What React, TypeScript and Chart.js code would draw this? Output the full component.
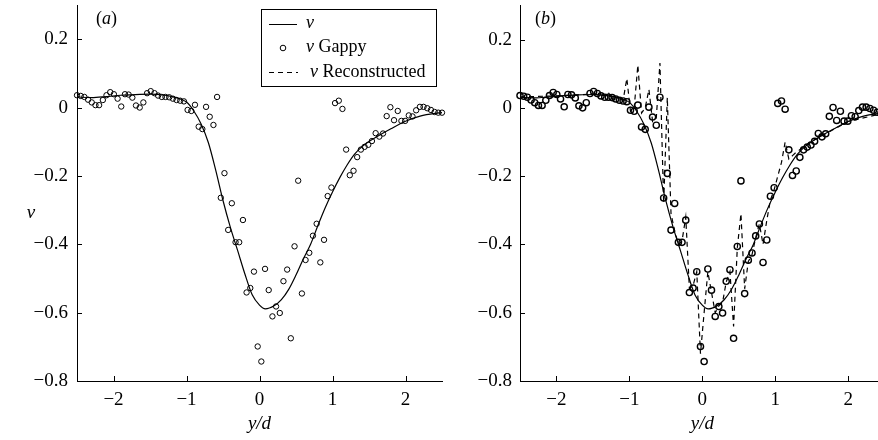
import React, { useEffect, useRef } from 'react';
import { Chart, registerables } from 'chart.js';
Chart.register(...registerables);

// ---- data ----
const xTicks = [-2, -1, 0, 1, 2];
const yTicks = [-0.8, -0.6, -0.4, -0.2, 0, 0.2];

// exact solution v
const vX = [-2.5, -2.3, -2.1, -1.9, -1.7, -1.5, -1.3, -1.2, -1.1, -1.0, -0.9, -0.8, -0.7, -0.6, -0.5, -0.4, -0.3, -0.2, -0.1, 0, 0.08, 0.2, 0.3, 0.4, 0.5, 0.6, 0.7, 0.8, 0.9, 1.0, 1.1, 1.2, 1.3, 1.4, 1.5, 1.6, 1.8, 2.0, 2.2, 2.4, 2.5];
const vV = [0.031, 0.029, 0.032, 0.036, 0.038, 0.039, 0.036, 0.032, 0.026, 0.016, -0.01, -0.048, -0.103, -0.183, -0.272, -0.35, -0.418, -0.487, -0.548, -0.578, -0.589, -0.58, -0.562, -0.532, -0.49, -0.443, -0.4, -0.345, -0.293, -0.247, -0.205, -0.168, -0.137, -0.115, -0.099, -0.086, -0.062, -0.04, -0.025, -0.017, -0.015];

// gappy samples
const gX = [-2.5, -2.449, -2.399, -2.348, -2.298, -2.247, -2.197, -2.146, -2.096, -2.045, -1.995, -1.944, -1.894, -1.843, -1.793, -1.742, -1.692, -1.641, -1.591, -1.54, -1.49, -1.439, -1.389, -1.338, -1.288, -1.237, -1.187, -1.136, -1.086, -1.035, -0.985, -0.934, -0.884, -0.833, -0.783, -0.732, -0.682, -0.631, -0.581, -0.53, -0.48, -0.429, -0.379, -0.328, -0.278, -0.227, -0.177, -0.126, -0.076, -0.025, 0.025, 0.076, 0.126, 0.177, 0.227, 0.278, 0.328, 0.379, 0.429, 0.48, 0.53, 0.581, 0.631, 0.682, 0.732, 0.783, 0.833, 0.884, 0.934, 0.985, 1.035, 1.086, 1.136, 1.187, 1.237, 1.288, 1.338, 1.389, 1.439, 1.49, 1.54, 1.591, 1.641, 1.692, 1.742, 1.793, 1.843, 1.894, 1.944, 1.995, 2.045, 2.096, 2.146, 2.197, 2.247, 2.298, 2.348, 2.399, 2.449, 2.5];
const gV = [0.036, 0.034, 0.031, 0.023, 0.015, 0.007, 0.007, 0.022, 0.036, 0.045, 0.039, 0.026, 0.003, 0.039, 0.038, 0.029, 0.006, 0.0, 0.015, 0.042, 0.048, 0.042, 0.035, 0.031, 0.031, 0.03, 0.026, 0.022, 0.02, 0.018, -0.007, -0.01, 0.008, -0.056, -0.063, 0.002, -0.027, -0.051, 0.031, -0.264, -0.192, -0.358, -0.28, -0.394, -0.394, -0.329, -0.541, -0.528, -0.48, -0.699, -0.743, -0.472, -0.534, -0.611, -0.582, -0.601, -0.508, -0.474, -0.675, -0.406, -0.214, -0.544, -0.446, -0.425, -0.375, -0.34, -0.453, -0.387, -0.259, -0.234, 0.013, 0.02, -0.004, -0.123, -0.198, -0.185, -0.145, -0.123, -0.115, -0.109, -0.098, -0.075, -0.085, -0.076, -0.025, 0.001, -0.037, -0.01, -0.039, -0.039, -0.023, -0.026, -0.008, 0.002, 0.002, -0.002, -0.007, -0.013, -0.015, -0.015];

// reconstructed
const rX = [-2.5, -2.0, -1.5, -1.338, -1.288, -1.237, -1.187, -1.136, -1.086, -1.035, -0.985, -0.934, -0.884, -0.833, -0.783, -0.732, -0.682, -0.631, -0.581, -0.53, -0.48, -0.429, -0.379, -0.328, -0.278, -0.227, -0.177, -0.126, -0.076, -0.025, 0.025, 0.076, 0.126, 0.177, 0.227, 0.278, 0.328, 0.379, 0.429, 0.48, 0.53, 0.581, 0.631, 0.682, 0.732, 0.783, 0.833, 0.884, 0.934, 0.985, 1.035, 1.086, 1.136, 1.187, 1.237, 1.288, 1.5, 2.0, 2.5];
const rV = [0.032, 0.035, 0.04, 0.036, 0.045, 0.022, 0.032, 0.026, 0.022, 0.086, -0.01, 0.0, 0.125, -0.015, 0.0, 0.054, -0.04, -0.03, 0.131, -0.28, 0.03, -0.31, -0.36, -0.4, -0.39, -0.32, -0.53, -0.52, -0.48, -0.72, -0.6, -0.48, -0.54, -0.6, -0.58, -0.57, -0.51, -0.48, -0.64, -0.41, -0.31, -0.53, -0.45, -0.43, -0.38, -0.34, -0.4, -0.33, -0.27, -0.24, -0.2, -0.16, -0.1, -0.15, -0.14, -0.13, -0.098, -0.04, -0.015];

const FONT = '"Liberation Serif", "Times New Roman", serif';
const fmt = (v: number) => (v < 0 ? '\u2212' + String(-v) : String(v));
const pts = (xs: number[], ys: number[]) => xs.map((x, i) => ({ x, y: ys[i] }));

type Panel = 'a' | 'b';

function drawMixed(ctx: CanvasRenderingContext2D, parts: [string, boolean][], x: number, y: number) {
  let cx = x;
  for (const [t, it] of parts) {
    ctx.font = (it ? 'italic ' : '') + '18px ' + FONT;
    ctx.fillText(t, cx, y);
    cx += ctx.measureText(t).width;
  }
}

function makeDeco(panel: Panel) {
  return {
    id: 'deco' + panel,
    afterDraw(chart: any) {
      const ctx: CanvasRenderingContext2D = chart.ctx;
      const { left, bottom } = chart.chartArea;
      const xs = chart.scales.x;
      const ys = chart.scales.y;
      ctx.save();
      ctx.strokeStyle = '#000';
      ctx.fillStyle = '#000';
      ctx.lineWidth = 1;
      ctx.setLineDash([]);
      ctx.beginPath();
      xTicks.forEach((t) => {
        const p = Math.round(xs.getPixelForValue(t)) + 0.5;
        ctx.moveTo(p, bottom);
        ctx.lineTo(p, bottom - 5);
      });
      yTicks.forEach((t) => {
        const p = Math.round(ys.getPixelForValue(t)) + 0.5;
        ctx.moveTo(left, p);
        ctx.lineTo(left + 5, p);
      });
      ctx.stroke();

      ctx.textBaseline = 'middle';
      ctx.textAlign = 'left';
      // panel label
      const lx = left + (panel === 'a' ? 19 : 15);
      drawMixed(ctx, [['(', false], [panel, true], [')', false]], lx, 19);
      // x title
      ctx.textAlign = 'center';
      ctx.font = 'italic 19px ' + FONT;
      ctx.fillText('y/d', xs.getPixelForValue(0), 424);
      if (panel === 'a') {
        ctx.fillText('v', 31, 213);
        // legend
        ctx.textAlign = 'left';
        ctx.lineWidth = 1;
        ctx.strokeRect(261.5, 9.5, 175, 77);
        ctx.beginPath();
        ctx.moveTo(269, 24.5);
        ctx.lineTo(297, 24.5);
        ctx.stroke();
        ctx.beginPath();
        ctx.arc(283, 48, 2.8, 0, Math.PI * 2);
        ctx.stroke();
        ctx.setLineDash([5, 4]);
        ctx.beginPath();
        ctx.moveTo(269, 72.5);
        ctx.lineTo(298, 72.5);
        ctx.stroke();
        ctx.setLineDash([]);
        drawMixed(ctx, [['v', true]], 306, 23);
        drawMixed(ctx, [['v', true], [' Gappy', false]], 306, 47);
        drawMixed(ctx, [['v', true], [' Reconstructed', false]], 310, 72);
      }
      ctx.restore();
    },
  };
}

function PanelChart({ panel, left, width }: { panel: Panel; left: number; width: number }) {
  const ref = useRef<HTMLCanvasElement | null>(null);
  useEffect(() => {
    if (!ref.current) return;
    const isB = panel === 'b';
    const datasets: any[] = [
      {
        label: 'v',
        data: pts(vX, vV),
        showLine: true,
        borderColor: '#000',
        borderWidth: 1.2,
        pointRadius: 0,
        cubicInterpolationMode: 'monotone',
        order: 1,
      },
      {
        label: 'v Gappy',
        data: pts(gX, gV),
        showLine: false,
        borderColor: '#000',
        backgroundColor: 'rgba(0,0,0,0)',
        pointRadius: isB ? 3.1 : 2.7,
        pointBorderWidth: isB ? 1.4 : 1,
        clip: false,
        order: 2,
      },
    ];
    if (isB) {
      datasets.push({
        label: 'v Reconstructed',
        data: pts(rX, rV),
        showLine: true,
        borderColor: '#000',
        borderWidth: 1.2,
        borderDash: [5, 4],
        pointRadius: 0,
        tension: 0,
        order: 3,
      });
    }
    const chart = new Chart(ref.current, {
      type: 'scatter',
      data: { datasets },
      options: {
        animation: false,
        responsive: false,
        events: [],
        layout: { padding: { top: 3, right: isB ? 5 : 8, left: 0, bottom: 0 } },
        plugins: { legend: { display: false }, tooltip: { enabled: false }, title: { display: false } },
        scales: {
          x: {
            type: 'linear',
            min: -2.5,
            max: 2.5,
            afterFit: (s: any) => { s.height = 59; s.paddingLeft = 0; s.paddingRight = 0; },
            afterBuildTicks: (s: any) => { s.ticks = xTicks.map((v) => ({ value: v })); },
            grid: { display: false, drawTicks: false },
            border: { display: true, color: '#000', width: 1 },
            ticks: { color: '#000', padding: 8, font: { family: FONT, size: 19 }, callback: (v: any) => fmt(Number(v)), maxRotation: 0 },
          },
          y: {
            type: 'linear',
            min: -0.8,
            max: 0.3,
            afterFit: (s: any) => { s.width = isB ? 50 : 77; s.paddingTop = 0; s.paddingBottom = 0; },
            afterBuildTicks: (s: any) => { s.ticks = yTicks.map((v) => ({ value: v })); },
            grid: { display: false, drawTicks: false },
            border: { display: true, color: '#000', width: 1 },
            ticks: { color: '#000', padding: isB ? 8 : 9, font: { family: FONT, size: 19 }, callback: (v: any) => fmt(Number(v)) },
          },
        },
      },
      plugins: [makeDeco(panel)],
    } as any);
    return () => chart.destroy();
  }, [panel]);
  return (
    <canvas
      ref={ref}
      width={width}
      height={440}
      style={{ position: 'absolute', left, top: 0, width, height: 440 }}
    />
  );
}

export default function App() {
  return (
    <div style={{ position: 'fixed', left: 0, top: 0, width: 878, height: 440, overflow: 'hidden', background: '#fff' }}>
      <PanelChart panel="a" left={0} width={450} />
      <PanelChart panel="b" left={470} width={420} />
    </div>
  );
}
